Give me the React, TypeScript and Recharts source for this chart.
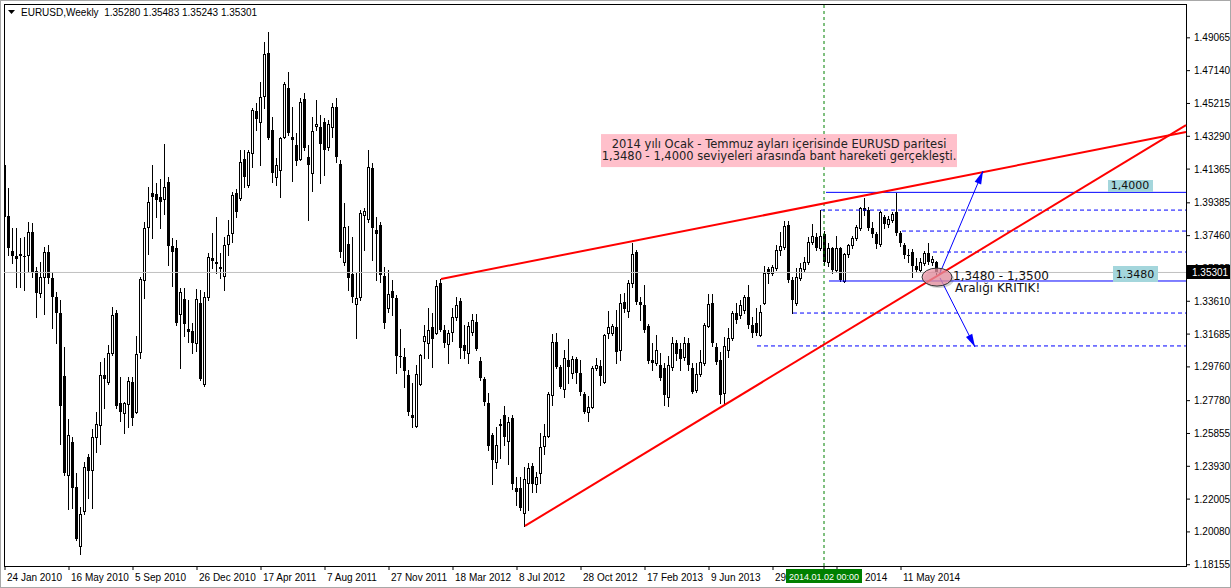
import React from "react";
import { ComposedChart, Bar, XAxis, YAxis, ReferenceLine, ReferenceArea, ReferenceDot } from "recharts";

// EURUSD weekly candles, week 0 = 24 Jan 2010
const opens = [
  1.4160, 1.3860, 1.3656, 1.3627, 1.3632, 1.3627, 1.3632, 1.3767, 1.3539, 1.3410, // 0
  1.3503, 1.3650, 1.3498, 1.3386, 1.3292, 1.2923, 1.2342, 1.2536, 1.2272, 1.1926, // 10
  1.2131, 1.2448, 1.2371, 1.2565, 1.2635, 1.2929, 1.2888, 1.3058, 1.3292, 1.2764, // 20
  1.2706, 1.2759, 1.2888, 1.2712, 1.3064, 1.3486, 1.3797, 1.3996, 1.3990, 1.3973, // 30
  1.3961, 1.4061, 1.3685, 1.3673, 1.3286, 1.3374, 1.3198, 1.3187, 1.3116, 1.3351, // 40
  1.2876, 1.3386, 1.3615, 1.3591, 1.3562, 1.3509, 1.3697, 1.3761, 1.3996, 1.3967, // 50
  1.4195, 1.4043, 1.4231, 1.4477, 1.4412, 1.4565, 1.4817, 1.4366, 1.4090, 1.4131, // 60
  1.4324, 1.4612, 1.4324, 1.4278, 1.4195, 1.4547, 1.4207, 1.4113, 1.4389, 1.4383, // 70
  1.4412, 1.4266, 1.4383, 1.4500, 1.4166, 1.3591, 1.3697, 1.3521, 1.3345, 1.3386, // 80
  1.3867, 1.3844, 1.4143, 1.3779, 1.3808, 1.3509, 1.3322, 1.3421, 1.3380, 1.3040, // 90
  1.3034, 1.2929, 1.2694, 1.2630, 1.2876, 1.3128, 1.3116, 1.3210, 1.3175, 1.3468, // 100
  1.3193, 1.3110, 1.3181, 1.3269, 1.3363, 1.3105, 1.3058, 1.3181, 1.3239, 1.3011, // 110
  1.2905, 1.2764, 1.2577, 1.2418, 1.2635, 1.2694, 1.2542, 1.2676, 1.2266, 1.2266, // 120
  1.2119, 1.2295, 1.2395, 1.2289, 1.2354, 1.2512, 1.2571, 1.2811, 1.3122, 1.2976, // 130
  1.2847, 1.3017, 1.2940, 1.3022, 1.2940, 1.2817, 1.2712, 1.2741, 1.2970, 1.2981, // 140
  1.2888, 1.3175, 1.3175, 1.3210, 1.3075, 1.3357, 1.3304, 1.3468, 1.3650, 1.3357, // 150
  1.3339, 1.3216, 1.3017, 1.2999, 1.2987, 1.2970, 1.2800, 1.2976, 1.3116, 1.3081, // 160
  1.3034, 1.3116, 1.2970, 1.2841, 1.2934, 1.2999, 1.3216, 1.3351, 1.3093, 1.3017, // 170
  1.2823, 1.3075, 1.3146, 1.3292, 1.3281, 1.3310, 1.3386, 1.3222, 1.3234, 1.3163, // 180
  1.3351, 1.3550, 1.3527, 1.3556, 1.3662, 1.3679, 1.3808, 1.3486, 1.3351, 1.3498, // 190
  1.3550, 1.3591, 1.3709, 1.3738, 1.3673, 1.3756, 1.3591, 1.3673, 1.3544, 1.3673, // 200
  1.3480, 1.3638, 1.3691, 1.3732, 1.3791, 1.3908, 1.3896, 1.3791, 1.3756, 1.3697, // 210
  1.3855, 1.3814, 1.3838, 1.3885, 1.3761, 1.3691, 1.3632, 1.3650, 1.3568, 1.3544, // 220
  1.3586, 1.3644, 1.3591, 1.3591, 1.3528,                                         // 230
];
const highs = [
  1.4195, 1.4025, 1.3791, 1.3791, 1.3732, 1.3738, 1.3826, 1.3820, 1.3562, 1.3591,
  1.3679, 1.3691, 1.3533, 1.3415, 1.3369, 1.3093, 1.2671, 1.2565, 1.2354, 1.2154,
  1.2418, 1.2465, 1.2612, 1.2712, 1.3005, 1.3028, 1.3105, 1.3327, 1.3310, 1.2917,
  1.2770, 1.2917, 1.2917, 1.3157, 1.3503, 1.3826, 1.4031, 1.4160, 1.4055, 1.4078,
  1.4283, 1.4090, 1.3732, 1.3720, 1.3439, 1.3439, 1.3369, 1.3234, 1.3433, 1.3427,
  1.3415, 1.3644, 1.3761, 1.3855, 1.3644, 1.3738, 1.3838, 1.4002, 1.4020, 1.4248,
  1.4248, 1.4248, 1.4495, 1.4524, 1.4647, 1.4882, 1.4940, 1.4442, 1.4201, 1.4324,
  1.4647, 1.4706, 1.4500, 1.4348, 1.4553, 1.4583, 1.4278, 1.4442, 1.4542, 1.4454,
  1.4436, 1.4424, 1.4524, 1.4553, 1.4190, 1.3937, 1.3803, 1.3738, 1.3527, 1.3896,
  1.3908, 1.4248, 1.4172, 1.3855, 1.3826, 1.3562, 1.3544, 1.3486, 1.3398, 1.3198,
  1.3087, 1.2958, 1.2882, 1.2987, 1.3052, 1.3222, 1.3322, 1.3292, 1.3486, 1.3492,
  1.3222, 1.3193, 1.3322, 1.3386, 1.3380, 1.3222, 1.3239, 1.3286, 1.3286, 1.3034,
  1.2917, 1.2823, 1.2588, 1.2624, 1.2671, 1.2747, 1.2682, 1.2694, 1.2330, 1.2330,
  1.2389, 1.2413, 1.2413, 1.2360, 1.2588, 1.2641, 1.2829, 1.3169, 1.3175, 1.2987,
  1.3075, 1.3140, 1.3040, 1.3034, 1.3017, 1.2829, 1.2805, 1.2981, 1.3028, 1.3017,
  1.3169, 1.3304, 1.3228, 1.3310, 1.3404, 1.3410, 1.3486, 1.3703, 1.3662, 1.3386,
  1.3456, 1.3228, 1.3116, 1.3163, 1.3058, 1.2999, 1.3040, 1.3151, 1.3134, 1.3116,
  1.3151, 1.3146, 1.2999, 1.2999, 1.3075, 1.3234, 1.3404, 1.3404, 1.3116, 1.3064,
  1.3151, 1.3204, 1.3304, 1.3351, 1.3369, 1.3398, 1.3456, 1.3269, 1.3322, 1.3339,
  1.3568, 1.3562, 1.3574, 1.3691, 1.3767, 1.3832, 1.3832, 1.3503, 1.3556, 1.3586,
  1.3621, 1.3738, 1.3814, 1.3761, 1.3896, 1.3773, 1.3703, 1.3679, 1.3744, 1.3679,
  1.3644, 1.3697, 1.3744, 1.3808, 1.3914, 1.3967, 1.3914, 1.3826, 1.3767, 1.3890,
  1.3867, 1.3861, 1.3885, 1.3996, 1.3773, 1.3703, 1.3668, 1.3668, 1.3615, 1.3615,
  1.3656, 1.3703, 1.3627, 1.3597, 1.3548,
];
const lows = [
  1.3844, 1.3632, 1.3586, 1.3445, 1.3445, 1.3427, 1.3533, 1.3503, 1.3269, 1.3386,
  1.3286, 1.3468, 1.3204, 1.3116, 1.2524, 1.2340, 1.2143, 1.2149, 1.1960, 1.1879,
  1.2113, 1.2207, 1.2149, 1.2477, 1.2524, 1.2735, 1.2876, 1.3046, 1.2735, 1.2659,
  1.2588, 1.2624, 1.2635, 1.2706, 1.3028, 1.3380, 1.3638, 1.3732, 1.3855, 1.3791,
  1.3873, 1.3574, 1.3451, 1.3222, 1.2970, 1.3157, 1.3122, 1.3058, 1.3069, 1.2899,
  1.2864, 1.3369, 1.3556, 1.3527, 1.3498, 1.3427, 1.3632, 1.3709, 1.3855, 1.3955,
  1.4031, 1.4031, 1.4149, 1.4366, 1.4160, 1.4495, 1.4313, 1.4061, 1.4043, 1.3973,
  1.4319, 1.4336, 1.4066, 1.4160, 1.4190, 1.4248, 1.3838, 1.4008, 1.4366, 1.4055,
  1.4102, 1.4248, 1.4324, 1.4178, 1.3621, 1.3574, 1.3427, 1.3357, 1.3146, 1.3369,
  1.3662, 1.3826, 1.3603, 1.3486, 1.3474, 1.3204, 1.3298, 1.3281, 1.2940, 1.2976,
  1.2858, 1.2694, 1.2624, 1.2624, 1.2870, 1.3028, 1.3028, 1.2976, 1.3169, 1.3187,
  1.3093, 1.2999, 1.3128, 1.3251, 1.3028, 1.3028, 1.2999, 1.3163, 1.3075, 1.2899,
  1.2753, 1.2489, 1.2289, 1.2383, 1.2442, 1.2518, 1.2407, 1.2260, 1.2166, 1.2137,
  1.2043, 1.2137, 1.2242, 1.2242, 1.2295, 1.2465, 1.2565, 1.2753, 1.2970, 1.2852,
  1.2800, 1.2882, 1.2911, 1.2882, 1.2811, 1.2706, 1.2659, 1.2735, 1.2958, 1.2870,
  1.2882, 1.3146, 1.3163, 1.2999, 1.3017, 1.3298, 1.3269, 1.3445, 1.3345, 1.3251,
  1.3181, 1.2999, 1.2958, 1.2987, 1.2899, 1.2753, 1.2747, 1.2958, 1.3017, 1.2958,
  1.3017, 1.2958, 1.2823, 1.2829, 1.2923, 1.2987, 1.3210, 1.3099, 1.2993, 1.2764,
  1.2764, 1.3034, 1.3134, 1.3234, 1.3263, 1.3292, 1.3204, 1.3151, 1.3163, 1.3157,
  1.3345, 1.3468, 1.3515, 1.3544, 1.3632, 1.3668, 1.3474, 1.3292, 1.3339, 1.3486,
  1.3539, 1.3580, 1.3697, 1.3662, 1.3662, 1.3574, 1.3568, 1.3527, 1.3533, 1.3480,
  1.3474, 1.3621, 1.3673, 1.3720, 1.3779, 1.3867, 1.3779, 1.3738, 1.3673, 1.3685,
  1.3791, 1.3797, 1.3826, 1.3750, 1.3685, 1.3615, 1.3591, 1.3503, 1.3533, 1.3533,
  1.3574, 1.3580, 1.3574, 1.3521, 1.3524,
];
const closes = [
  1.3855, 1.3673, 1.3627, 1.3609, 1.3638, 1.3621, 1.3767, 1.3533, 1.3410, 1.3503,
  1.3650, 1.3498, 1.3386, 1.3292, 1.2747, 1.2354, 1.2577, 1.2266, 1.1967, 1.2113,
  1.2389, 1.2366, 1.2565, 1.2641, 1.2929, 1.2905, 1.3058, 1.3281, 1.2747, 1.2712,
  1.2764, 1.2893, 1.2676, 1.3052, 1.3492, 1.3791, 1.3943, 1.3973, 1.3955, 1.3943,
  1.4031, 1.3685, 1.3650, 1.3234, 1.3415, 1.3228, 1.3181, 1.3116, 1.3374, 1.2905,
  1.3386, 1.3621, 1.3597, 1.3580, 1.3550, 1.3691, 1.3750, 1.3984, 1.3885, 1.4178,
  1.4090, 1.4237, 1.4483, 1.4430, 1.4559, 1.4811, 1.4319, 1.4113, 1.4160, 1.4319,
  1.4635, 1.4348, 1.4307, 1.4184, 1.4530, 1.4260, 1.4160, 1.4360, 1.4401, 1.4283,
  1.4248, 1.4401, 1.4500, 1.4207, 1.3650, 1.3797, 1.3498, 1.3386, 1.3380, 1.3879,
  1.3890, 1.4149, 1.3791, 1.3756, 1.3515, 1.3234, 1.3404, 1.3380, 1.3040, 1.3034,
  1.2952, 1.2712, 1.2676, 1.2934, 1.3046, 1.3157, 1.3193, 1.3140, 1.3451, 1.3193,
  1.3116, 1.3175, 1.3269, 1.3339, 1.3087, 1.3069, 1.3216, 1.3251, 1.3081, 1.2911,
  1.2770, 1.2512, 1.2430, 1.2518, 1.2641, 1.2565, 1.2653, 1.2289, 1.2242, 1.2149,
  1.2319, 1.2383, 1.2289, 1.2330, 1.2506, 1.2571, 1.2817, 1.3122, 1.2976, 1.2858,
  1.3028, 1.2976, 1.3022, 1.2940, 1.2829, 1.2712, 1.2741, 1.2970, 1.2987, 1.2923,
  1.3163, 1.3210, 1.3216, 1.3064, 1.3351, 1.3316, 1.3468, 1.3638, 1.3357, 1.3339,
  1.3193, 1.3011, 1.2999, 1.3075, 1.2911, 1.2811, 1.2987, 1.3116, 1.3052, 1.3022,
  1.3116, 1.2987, 1.2829, 1.2934, 1.3005, 1.3222, 1.3345, 1.3116, 1.3005, 1.2811,
  1.3099, 1.3146, 1.3292, 1.3251, 1.3339, 1.3386, 1.3222, 1.3175, 1.3175, 1.3298,
  1.3527, 1.3521, 1.3562, 1.3662, 1.3685, 1.3803, 1.3486, 1.3369, 1.3503, 1.3556,
  1.3591, 1.3709, 1.3744, 1.3673, 1.3744, 1.3591, 1.3673, 1.3544, 1.3673, 1.3486,
  1.3638, 1.3691, 1.3732, 1.3797, 1.3908, 1.3890, 1.3791, 1.3756, 1.3697, 1.3885,
  1.3814, 1.3844, 1.3873, 1.3761, 1.3703, 1.3632, 1.3627, 1.3568, 1.3544, 1.3591,
  1.3644, 1.3591, 1.3609, 1.3527, 1.3530,
];

const dateTickWeeks = [0, 16, 32, 48, 64, 80, 96, 112, 128, 144, 160, 176, 192, 208, 224];
const dateTickLabels = [
  "24 Jan 2010", "16 May 2010", "5 Sep 2010", "26 Dec 2010", "17 Apr 2011", "7 Aug 2011",
  "27 Nov 2011", "18 Mar 2012", "8 Jul 2012", "28 Oct 2012", "17 Feb 2013", "9 Jun 2013",
  "29 Sep 2013", "19 Jan 2014", "11 May 2014",
];
const priceTicks = [
  1.49065, 1.4714, 1.45215, 1.4329, 1.41365, 1.39385, 1.3746, 1.35535, 1.3361,
  1.31685, 1.2976, 1.2778, 1.25855, 1.2393, 1.22005, 1.2008, 1.18155,
];

const title = "EURUSD,Weekly  1.35280 1.35483 1.35243 1.35301";
const lastPrice = 1.35301;
const cursorWeek = 204.75;
const cursorLabel = "2014.01.02 00:00";

// drawn objects (week index, price)
const wedgeUpper = [{ x: 109, y: 1.3492 }, { x: 295.25, y: 1.4354 }];
const wedgeLower = [{ x: 130, y: 1.2043 }, { x: 295.25, y: 1.4395 }];
const solidLevels = [{ from: 205.25, price: 1.4 }, { from: 206, price: 1.348 }];
const dashedLevels = [
  { from: 204, price: 1.3896 },
  { from: 224.25, price: 1.3773 },
  { from: 232, price: 1.365 },
  { from: 197, price: 1.3292 },
  { from: 188, price: 1.3099 },
];
const arrowUp = [{ x: 233.75, y: 1.3527 }, { x: 244.5, y: 1.4125 }];
const arrowDown = [{ x: 233.75, y: 1.3498 }, { x: 242.5, y: 1.3093 }];
const noteLines = [
  "2014 yılı Ocak - Temmuz ayları içerisinde EURUSD paritesi",
  "1,3480 - 1,4000 seviyeleri arasında bant hareketi gerçekleşti.",
];
const criticalLines = ["1,3480 - 1,3500", "Aralığı KRITIK!"];

const W = 1231;
const H = 588;
const PLOT_LEFT = 4;
const AXIS_W = 45;
const X_DOMAIN = [-0.25, 295.25];
const Y_DOMAIN = [1.1808, 1.5105];
const PX_PER_WEEK = (W - PLOT_LEFT - AXIS_W) / (X_DOMAIN[1] - X_DOMAIN[0]);
const CURSOR_HALF = 38;
const AXIS_FONT = "'Liberation Sans', Arial, sans-serif";
const NOTE_FONT = "'DejaVu Sans', Verdana, sans-serif";

function Candle(props: any) {
  const { x, y, width, height, payload } = props;
  if (!payload) return null;
  const { o, h, l, c } = payload;
  const top = Math.min(y, y + height);
  const span = Math.abs(height);
  const k = h > l ? span / (h - l) : 0;
  const py = (v: number) => Math.round(top + (h - v) * k);
  const cx = Math.floor(x + width / 2 + 0.01) + 0.5;
  const bTop = py(Math.max(o, c));
  const bBot = py(Math.min(o, c));
  return (
    <g>
      <line x1={cx} x2={cx} y1={py(h)} y2={py(l) + 1} stroke="#000" strokeWidth={1} />
      {c >= o ? (
        <rect x={cx - 1} y={bTop + 0.5} width={2} height={Math.max(bBot - bTop, 0)} fill="#fff" stroke="#000" strokeWidth={1} />
      ) : (
        <rect x={cx - 1.5} y={bTop} width={3} height={Math.max(bBot - bTop, 1)} fill="#000" />
      )}
    </g>
  );
}

function DateTick(props: any) {
  const { x, y, payload } = props;
  const v = payload.value;
  if (v === cursorWeek) {
    return (
      <g>
        <rect x={Math.round(x) - CURSOR_HALF} y={y - 3} width={CURSOR_HALF * 2} height={14} fill="#008000" />
        <text x={Math.round(x)} y={y + 8} textAnchor="middle" fill="#fff" fontSize={9} fontFamily={AXIS_FONT}>
          {cursorLabel}
        </text>
      </g>
    );
  }
  const label = dateTickLabels[dateTickWeeks.indexOf(v)];
  const cursorX = x + (cursorWeek - v) * PX_PER_WEEK;
  // labels partly hidden by the cursor date box
  if (v < cursorWeek && x + 60 > cursorX - CURSOR_HALF) {
    return (
      <text x={x + 2} y={y + 9} fill="#000" fontSize={10} fontFamily={AXIS_FONT}>
        {label.split(" ")[0]}
      </text>
    );
  }
  if (v > cursorWeek && x < cursorX + CURSOR_HALF) {
    return (
      <text x={cursorX + CURSOR_HALF + 3} y={y + 9} fill="#000" fontSize={10} fontFamily={AXIS_FONT}>
        {label.split(" ").pop()}
      </text>
    );
  }
  return (
    <text x={x + 2} y={y + 9} fill="#000" fontSize={10} fontFamily={AXIS_FONT}>
      {label}
    </text>
  );
}

function PriceTick(props: any) {
  const { x, y, payload } = props;
  if (payload.value === lastPrice) {
    return (
      <g>
        <rect x={x - 7} y={Math.round(y) - 7} width={45} height={14} fill="#000" />
        <text x={x - 2} y={Math.round(y) + 4} fill="#fff" fontSize={10} fontFamily={AXIS_FONT}>
          {lastPrice.toFixed(5)}
        </text>
      </g>
    );
  }
  return (
    <text x={x} y={y + 3.5} fill="#000" fontSize={10} fontFamily={AXIS_FONT}>
      {payload.value.toFixed(5)}
    </text>
  );
}

function Frame(props: any) {
  const { x, y, width, height } = props;
  return <rect x={x + 0.5} y={y + 0.5} width={width} height={height} fill="none" stroke="#000" strokeWidth={1} />;
}

function NoteBox(props: any) {
  const { cx, cy } = props;
  return (
    <g>
      <rect x={cx - 178} y={cy - 16} width={356} height={33} fill="#ffc0cb" />
      {noteLines.map((t, k) => (
        <text key={k} x={cx} y={cy - 2 + k * 12} textAnchor="middle" fill="#222" fontSize={11.5} fontFamily={NOTE_FONT}>
          {t}
        </text>
      ))}
    </g>
  );
}

function LevelTag(text: string, dy: number, h: number, ty: number) {
  return (props: any) => {
    const { cx, cy } = props;
    return (
      <g>
        <rect x={Math.round(cx) - 22} y={Math.round(cy) + dy} width={45} height={h} fill="#a4d6dc" />
        <text x={Math.round(cx)} y={Math.round(cy) + ty} textAnchor="middle" fill="#111" fontSize={11} fontFamily={NOTE_FONT}>
          {text}
        </text>
      </g>
    );
  };
}

function Zone(props: any) {
  const { cx, cy } = props;
  return (
    <g>
      <ellipse cx={cx + 2} cy={cy + 2} rx={15} ry={9} fill="rgba(0,0,0,0.18)" />
      <ellipse cx={cx} cy={cy} rx={15} ry={9} fill="rgba(238,150,165,0.75)" stroke="#333" strokeWidth={1} />
    </g>
  );
}

function CriticalText(props: any) {
  const { cx, cy } = props;
  return (
    <g fontFamily={NOTE_FONT} fontSize={12} fill="#111">
      <text x={cx} y={cy - 1}>{criticalLines[0]}</text>
      <text x={cx + 2} y={cy + 11}>{criticalLines[1]}</text>
    </g>
  );
}

function ArrowHead(angleDeg: number) {
  return (props: any) => {
    const { cx, cy } = props;
    const a = (angleDeg * Math.PI) / 180;
    const len = 13;
    const half = 3.5;
    const bx = cx - len * Math.cos(a);
    const by = cy - len * Math.sin(a);
    const nx = -Math.sin(a) * half;
    const ny = Math.cos(a) * half;
    return <polygon points={`${cx},${cy} ${bx + nx},${by + ny} ${bx - nx},${by - ny}`} fill="#0000ff" />;
  };
}

export default function App() {
  const rows = opens.map((o, i) => ({ i, o, h: highs[i], l: lows[i], c: closes[i], range: [lows[i], highs[i]] }));

  return (
    <div style={{ position: "absolute", left: 0, top: 0, width: W, height: H, background: "#fff", fontFamily: AXIS_FONT }}>
      <ComposedChart width={W} height={H} data={rows} margin={{ top: 4, right: 0, bottom: 0, left: PLOT_LEFT }}>
        <XAxis
          dataKey="i"
          type="number"
          domain={X_DOMAIN}
          allowDataOverflow
          ticks={[...dateTickWeeks, cursorWeek]}
          interval={0}
          tick={<DateTick />}
          tickSize={4}
          tickMargin={2}
          tickLine={{ stroke: "#000" }}
          axisLine={false}
          height={22}
        />
        <YAxis
          orientation="right"
          type="number"
          domain={Y_DOMAIN}
          allowDataOverflow
          ticks={[...priceTicks, lastPrice]}
          interval={0}
          tick={<PriceTick />}
          tickSize={4}
          tickMargin={4}
          tickLine={{ stroke: "#000" }}
          axisLine={false}
          width={AXIS_W}
        />
        <ReferenceArea x1={X_DOMAIN[0]} x2={X_DOMAIN[1]} y1={Y_DOMAIN[0]} y2={Y_DOMAIN[1]} shape={<Frame />} />
        <ReferenceLine y={lastPrice} stroke="#c0c0c0" strokeWidth={1} />
        <ReferenceLine x={cursorWeek} stroke="#008000" strokeDasharray="3 3" strokeWidth={1} />
        {solidLevels.map((lv, k) => (
          <ReferenceLine key={`s${k}`} segment={[{ x: lv.from, y: lv.price }, { x: X_DOMAIN[1], y: lv.price }]} stroke="#0000ff" strokeWidth={1} />
        ))}
        {dashedLevels.map((lv, k) => (
          <ReferenceLine key={`d${k}`} segment={[{ x: lv.from, y: lv.price }, { x: X_DOMAIN[1], y: lv.price }]} stroke="#0000ff" strokeDasharray="4 3" strokeWidth={1} />
        ))}
        <Bar dataKey="range" barSize={3} shape={<Candle />} isAnimationActive={false} />
        <ReferenceLine segment={wedgeUpper} stroke="#ff0000" strokeWidth={2} />
        <ReferenceLine segment={wedgeLower} stroke="#ff0000" strokeWidth={2} />
        <ReferenceDot x={233} y={1.3503} r={1} shape={<Zone />} />
        <ReferenceLine segment={arrowUp} stroke="#0000ff" strokeWidth={1} />
        <ReferenceLine segment={arrowDown} stroke="#0000ff" strokeWidth={1} />
        <ReferenceDot x={arrowUp[1].x} y={arrowUp[1].y} r={1} shape={ArrowHead(-67)} />
        <ReferenceDot x={arrowDown[1].x} y={arrowDown[1].y} r={1} shape={ArrowHead(63)} />
        <ReferenceDot x={237} y={1.348} r={1} shape={<CriticalText />} />
        <ReferenceDot x={281.25} y={1.4} r={1} shape={LevelTag("1,4000", -12, 12, -3)} />
        <ReferenceDot x={282.5} y={1.348} r={1} shape={LevelTag("1.3480", -15, 16, -3)} />
        <ReferenceDot x={193.5} y={1.4248} r={1} shape={<NoteBox />} />
      </ComposedChart>
      <div style={{ position: "absolute", left: 8, top: 7, fontSize: 10, lineHeight: "12px", color: "#000", whiteSpace: "pre", display: "flex", alignItems: "center" }}>
        <svg width={8} height={6} style={{ marginRight: 5 }}>
          <polygon points="0,0 7,0 3.5,4" fill="#000" />
        </svg>
        <span>{title}</span>
      </div>
      <div style={{ position: "absolute", left: 0, top: 0, width: W, height: H, boxSizing: "border-box", border: "1px solid #a8a8a8", pointerEvents: "none" }} />
    </div>
  );
}
